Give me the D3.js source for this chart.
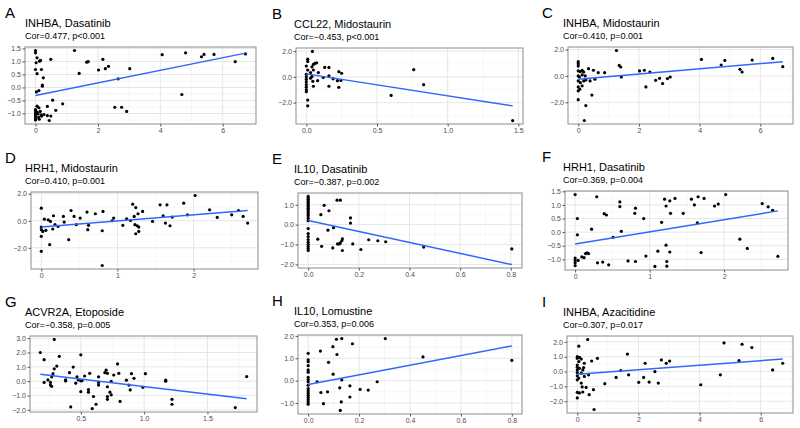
<!DOCTYPE html>
<html>
<head>
<meta charset="utf-8">
<script src="https://cdnjs.cloudflare.com/ajax/libs/d3/7.8.5/d3.min.js"></script>
<style>
  body { margin: 0; background: #fff; }
  svg { font-family: "Liberation Sans", Arial, sans-serif; }
  .tick text { fill: #4d4d4d; font-size: 7px; }
  .tick line { stroke: #555; }
</style>
</head>
<body>
<div id="chart"></div>
<script>
//-- Panel text --//
var letters = ["A", "B", "C", "D", "E", "F", "G", "H", "I"];
var genes = ["INHBA", "CCL22", "INHBA", "HRH1", "IL10", "HRH1", "ACVR2A", "IL10", "INHBA"];
var drugs = ["Dasatinib", "Midostaurin", "Midostaurin", "Midostaurin", "Dasatinib", "Dasatinib", "Etoposide", "Lomustine", "Azacitidine"];
var cors = [0.477, -0.453, 0.410, 0.410, -0.387, 0.369, -0.358, 0.353, 0.307];
var pTexts = ["p<0.001", "p<0.001", "p=0.001", "p=0.001", "p=0.002", "p=0.004", "p=0.005", "p=0.006", "p=0.017"];

//-- Linear fits (intercept, slope) --//
var fitIntercept = [-0.31, 0.23, -0.25, -0.47, 0.21, -0.44, 0.67, -0.17, -0.18];
var fitSlope = [0.242, -1.70, 0.197, 0.454, -2.76, 0.449, -1.05, 2.15, 0.152];

//-- Ticks --//
var xTicks = [[0, 2, 4, 6], [0, 0.5, 1, 1.5], [0, 2, 4, 6], [0, 1, 2], [0, 0.2, 0.4, 0.6, 0.8],
              [0, 1, 2], [0.5, 1, 1.5], [0, 0.2, 0.4, 0.6, 0.8], [0, 2, 4, 6]];
var xDigits = [0, 1, 0, 0, 1, 0, 1, 1, 0];
var yTicks = [[-1, -0.5, 0, 0.5, 1, 1.5], [-2, 0, 2], [-2, 0, 2], [-2, 0, 2], [-2, -1, 0, 1],
              [-1, -0.5, 0, 0.5, 1, 1.5], [-2, -1, 0, 1, 2, 3], [-1, 0, 1, 2], [-2, -1, 0, 1, 2]];

//-- Points [x, y] --//
var ptsA = [[0,1.42],[0,1.33],[0.02,0.95],[0.05,1.14],[0.13,1.01],[0.16,1.04],[0,0.69],[0.19,0.69],[0.05,0.53],
  [0.25,0.37],[0.22,0.09],[0.22,0.05],[0.03,-0.17],[0.11,-0.12],[0.49,1.08],[0.55,-0.49],[0.87,-0.63],[0.65,-0.88],
  [0.38,-0.73],[0.05,-0.72],[0.11,-0.78],[0,-0.85],[0,-0.9],[0,-0.98],[0,-1.05],[0,-1.12],[0,-1.2],[0,-1.25],
  [0.05,-0.95],[0.08,-1.02],[0.1,-1.15],[0.12,-1.22],[0.15,-0.92],[0.18,-1.05],[0.2,-1.1],[0.27,-1.04],[0.38,-1.08],
  [0.44,-1.27],[0.49,-1.1],[1.25,1.42],[1.4,0.54],[1.64,0.97],[1.69,0.99],[2.02,0.67],[2.16,1.08],[2.24,0.72],
  [2.34,0.81],[2.65,0.33],[2.54,-0.76],[2.76,-0.76],[2.92,-0.92],[3.02,0.72],[4.06,1.26],[4.69,-0.27],[4.81,1.33],
  [5.32,1.18],[5.4,1.27],[5.72,1.27],[6.4,0.99],[6.73,1.29]];
var ptsB = [[0.043,1.97],[0.01,1.37],[0.01,1.2],[0,0.84],[0.05,0.96],[0.073,1.09],[0.06,1.04],[0.04,0.78],[0.01,0.53],
  [0.05,0.53],[0.085,0.33],[0.13,0.73],[0.16,0.73],[0.03,0.33],[0,0.2],[0,0],[0,-0.2],[0,-0.4],[0,-0.6],[0,-0.8],
  [0,-1.0],[0,-1.15],[0.01,-1.8],[0.01,-2.25],[0.046,-0.35],[0.05,-0.73],[0.08,-0.3],[0.12,-0.05],[0.16,0.08],
  [0.16,-0.73],[0.19,-0.15],[0.22,-0.3],[0.23,0.4],[0.25,0.28],[0.23,-0.81],[0.245,-0.28],[0.03,-0.1],[0.04,0.03],
  [0.6,-1.44],[0.76,0.56],[0.83,-0.61],[1.46,-3.39]];
var ptsC = [[1.26,1.93],[0,1.08],[0,0.93],[0,0.75],[0,0.38],[0.07,0.33],[0.13,0.43],[0.18,0.3],[0.34,0.55],[0.5,0.43],
  [0.66,0.25],[0.87,0.25],[0,0],[0.04,-0.08],[0.13,0.08],[0.23,0],[0,-0.38],[0.07,-0.5],[0.13,-0.75],[0,-0.83],
  [0,-1.13],[0.05,-1.0],[0.18,-0.38],[0.25,-0.3],[0.39,-0.38],[0.55,-0.25],[0.45,-1.45],[0,-1.8],[0.25,-2.25],
  [0.2,-3.38],[1.35,0.8],[1.4,0.68],[1.42,-0.08],[2.02,0.38],[2.18,0.43],[2.36,0.3],[2.23,-0.83],[2.55,-0.33],
  [2.68,-0.18],[2.78,-0.58],[2.94,-0.2],[3.03,-0.08],[4.06,1.25],[4.71,0.83],[4.83,1.18],[5.33,0.5],[5.4,0.3],
  [5.73,1.2],[6.41,1.33],[6.74,0.7]];
var ptsD = [[0,0.93],[0,-0.47],[0,-0.66],[0,-1.15],[0,-2.26],[0.02,-0.79],[0.04,0.12],[0.06,-0.71],[0.09,0.07],
  [0.12,-0.05],[0.11,-1.77],[0.15,-0.61],[0.16,0.37],[0.18,-0.29],[0.22,-0.42],[0.29,0.32],[0.3,-0.1],[0.36,-1.4],
  [0.39,0.76],[0.43,0.32],[0.46,-0.29],[0.51,0.2],[0.6,0.64],[0.61,-0.66],[0.62,-0.34],[0.71,0.52],[0.81,0.69],
  [0.8,-0.74],[0.8,-3.31],[0.93,0],[0.95,0.2],[1.07,-0.34],[1.12,0.15],[1.17,0.02],[1.2,1.23],[1.22,0.32],
  [1.23,-0.29],[1.24,-0.96],[1.24,0.98],[1.26,-0.37],[1.28,-0.79],[1.28,-0.47],[1.33,0.69],[1.27,0.52],[1.46,-0.05],
  [1.56,1.18],[1.6,0.37],[1.63,-0.17],[1.65,1.18],[1.69,-0.37],[1.72,0.27],[1.87,1.3],[1.92,0.44],[2.02,1.87],
  [2.21,0.81],[2.31,0.25],[2.5,0.44],[2.59,0.76],[2.65,0.32],[2.71,-0.17]];
var ptsE = [[0,1.42],[0,1.35],[0,1.28],[0,1.2],[0,1.12],[0,1.05],[0,0.98],[0,0.9],[0,0.82],[0,0.75],[0,0.65],[0,0.55],
  [0,0.45],[0,0.32],[0,0.2],[0,-0.2],[0,-0.45],[0,-0.6],[0,-0.75],[0,-0.88],[0,-1.0],[0,-1.1],[0,-1.2],[0,-1.3],
  [0.038,-0.73],[0.05,0.5],[0.053,-1.09],[0.063,0.97],[0.078,-0.28],[0.082,0.7],[0.1,-0.15],[0.097,-1.17],
  [0.114,1.23],[0.127,1.23],[0.116,-0.97],[0.127,-0.92],[0.133,-0.81],[0.135,-0.71],[0.135,-1.3],[0.123,-0.97],
  [0.167,0.34],[0.167,0.08],[0.176,-0.97],[0.208,-1.25],[0.239,-0.76],[0.275,-0.81],[0.306,-0.86],[0.456,-1.13],
  [0.804,-1.22]];
var ptsF = [[0,1.38],[0.29,1.3],[0.03,0.5],[0.03,-0.1],[0,-0.95],[0,-1.04],[0,-1.13],[0,-1.23],[0.04,-1.04],
  [0.09,-0.91],[0.12,-0.94],[0.14,-0.79],[0.16,-0.76],[0.18,-0.79],[0.22,0.11],[0.3,-1.13],[0.37,-1.1],[0.39,0.68],
  [0.42,0.63],[0.45,-1.2],[0.51,-0.19],[0.6,1.11],[0.6,0.94],[0.62,0.03],[0.71,-1.06],[0.81,0.88],[0.8,0.69],
  [0.81,-1.08],[0.92,0.5],[0.95,-0.88],[1.07,-1.26],[1.11,-0.7],[1.16,0.36],[1.2,1.21],[1.22,0.96],[1.22,-0.48],
  [1.23,-1.08],[1.23,-1.25],[1.27,1.15],[1.28,0.69],[1.27,-0.73],[1.34,1.24],[1.45,0.69],[1.56,1.21],[1.6,1.0],
  [1.64,0.34],[1.65,1.3],[1.69,-0.75],[1.73,1.24],[1.87,0.96],[1.92,1.03],[2.02,1.38],[2.21,-0.26],[2.31,-0.6],
  [2.51,1.05],[2.59,0.93],[2.65,0.8],[2.72,-0.89]];
var ptsG = [[0.18,2.0],[0.21,1.5],[0.29,2.91],[0.33,1.73],[0.29,0.86],[0.31,1.05],[0.21,-0.09],[0.24,0.09],
  [0.26,-0.09],[0.26,-0.27],[0.27,-0.36],[0.27,0.3],[0.28,0.52],[0.38,0.09],[0.38,0.02],[0.41,0.59],[0.44,0.98],
  [0.42,-1.8],[0.46,-0.14],[0.47,0.3],[0.48,0.09],[0.5,0.02],[0.51,0.04],[0.5,-0.73],[0.5,1.84],[0.53,0.36],
  [0.56,-0.59],[0.56,-0.77],[0.57,0.55],[0.6,-1.07],[0.59,-1.91],[0.62,-1.61],[0.64,-0.09],[0.64,-0.27],[0.64,0.3],
  [0.69,0.59],[0.7,0.77],[0.71,-0.39],[0.71,-1.07],[0.71,-1.27],[0.71,0.55],[0.73,-0.77],[0.74,-0.95],[0.74,-0.02],
  [0.76,0.43],[0.79,1.2],[0.8,0.55],[0.81,-1.41],[0.86,0.07],[0.88,-0.27],[0.89,-0.61],[0.9,0.52],[0.92,0.2],
  [0.99,-0.43],[1.01,0.52],[1.17,0.07],[1.17,0.0],[1.22,-1.27],[1.22,-1.61],[1.72,-1.84],[1.81,0.32]];
var ptsH = [[0,1.22],[0,0.93],[0,0.85],[0,0.67],[0,0.48],[0,0.38],[0,0.15],[0,0.05],[0,-0.05],[0,-0.2],[0,-0.35],
  [0,-0.45],[0,-0.55],[0,-0.65],[0,-0.75],[0,-0.85],[0,-0.95],[0,-1.05],[0.035,-0.05],[0.048,1.32],[0.05,-0.53],
  [0.06,-1.03],[0.076,-0.5],[0.08,0.82],[0.097,1.52],[0.098,0.29],[0.111,1.85],[0.113,1.17],[0.124,-0.32],
  [0.126,-1.33],[0.13,-0.95],[0.132,1.88],[0.132,0.03],[0.164,-0.23],[0.164,-0.73],[0.174,1.65],[0.204,-0.39],
  [0.236,-0.42],[0.271,-0.05],[0.303,1.88],[0.451,1.06],[0.8,0.91]];
var ptsI = [[0.34,2.16],[0.05,1.71],[0,1.0],[0,0.89],[0.07,0.96],[0.13,0.84],[0.05,0.67],[0,0.44],[0,0.29],[0.07,0.22],
  [0,0.11],[0,-0.07],[0,-0.29],[0,-0.56],[0.05,-0.44],[0.13,-0.11],[0.18,0.11],[0.21,0.27],[0.23,0.56],[0.23,-0.33],
  [0.13,-0.78],[0.16,-1.04],[0,-1.4],[0.07,-1.44],[0.18,-1.38],[0,-1.78],[0.29,-1.07],[0.39,-1.56],[0.37,-0.22],
  [0.47,0.71],[0.53,-1.22],[0.55,-2.56],[0.66,0.89],[0.9,-0.82],[1.27,-0.4],[1.42,0.07],[1.64,1.18],[1.68,-0.22],
  [2.01,-0.73],[2.17,-0.4],[2.22,0.56],[2.35,-0.71],[2.54,0.0],[2.65,-0.78],[2.75,0.78],[2.91,0.56],[3.02,0.71],
  [4.04,-0.89],[4.68,-0.22],[4.8,1.93],[5.29,0.73],[5.39,1.84],[5.71,1.62],[6.39,0.11],[6.72,0.56]];
var points = [ptsA, ptsB, ptsC, ptsD, ptsE, ptsF, ptsG, ptsH, ptsI];

//-- Layout: panel boxes (left, top, right, bottom) --//
var boxes = [
  {l: 25, t: 47, r: 256, b: 124}, {l: 296, t: 48, r: 523, b: 124}, {l: 568, t: 47, r: 793, b: 124},
  {l: 31, t: 192, r: 258, b: 269}, {l: 298, t: 193, r: 522, b: 268}, {l: 565, t: 191, r: 788, b: 270},
  {l: 30, t: 336, r: 257, b: 412}, {l: 298, t: 335, r: 522, b: 414}, {l: 567, t: 336, r: 793, b: 413}];
var letterX = [5, 272, 542], titleX = [25, 294, 563];

var svg = d3.select("#chart").append("svg")
  .attr("width", 800)
  .attr("height", 428);

var fmtCor = d3.format(".3f");

function minorOf(ticks, dom) {
  var step = ticks[1] - ticks[0], out = [];
  for (var v = ticks[0] - step / 2; v <= dom[1]; v += step) {
    if (v >= dom[0]) out.push(v);
  }
  return out;
}

points.forEach(function(pts, i) {
  var b = boxes[i], col = i % 3;
  var fit = function(x) { return fitIntercept[i] + fitSlope[i] * x; };
  var xe = d3.extent(pts, function(d) { return d[0]; });
  // the fitted line counts toward the y range, as in ggplot
  var ye = d3.extent(pts.map(function(d) { return d[1]; }).concat([fit(xe[0]), fit(xe[1])]));
  var xPad = (xe[1] - xe[0]) * 0.05, yPad = (ye[1] - ye[0]) * 0.05;
  var xScale = d3.scaleLinear().domain([xe[0] - xPad, xe[1] + xPad]).range([b.l, b.r]),
      yScale = d3.scaleLinear().domain([ye[0] - yPad, ye[1] + yPad]).range([b.b, b.t]);
  var g = svg.append("g");

  // Panel letter and titles
  g.append("text").attr("x", letterX[col]).attr("y", b.t - 29)
    .style("font-size", "15px").style("fill", "#000").text(letters[i]);
  g.append("text").attr("x", titleX[col]).attr("y", b.t - 20)
    .style("font-size", "11px").style("fill", "#000").text(genes[i] + ", " + drugs[i]);
  g.append("text").attr("x", titleX[col]).attr("y", b.t - 8)
    .style("font-size", "9px").style("fill", "#000")
    .text("Cor=" + fmtCor(cors[i]).replace("-", "\u2212") + ", " + pTexts[i]);

  // Grid
  var xMinor = minorOf(xTicks[i], xScale.domain()),
      yMinor = minorOf(yTicks[i], yScale.domain());
  g.selectAll(".xminor").data(xMinor).enter().append("line")
    .attr("x1", function(d) { return xScale(d); }).attr("x2", function(d) { return xScale(d); })
    .attr("y1", b.t).attr("y2", b.b)
    .style("stroke", "#f2f2f2").style("stroke-width", 0.6);
  g.selectAll(".yminor").data(yMinor).enter().append("line")
    .attr("x1", b.l).attr("x2", b.r)
    .attr("y1", function(d) { return yScale(d); }).attr("y2", function(d) { return yScale(d); })
    .style("stroke", "#f2f2f2").style("stroke-width", 0.6);
  g.selectAll(".xmajor").data(xTicks[i]).enter().append("line")
    .attr("x1", function(d) { return xScale(d); }).attr("x2", function(d) { return xScale(d); })
    .attr("y1", b.t).attr("y2", b.b)
    .style("stroke", "#e6e6e6").style("stroke-width", 1);
  g.selectAll(".ymajor").data(yTicks[i]).enter().append("line")
    .attr("x1", b.l).attr("x2", b.r)
    .attr("y1", function(d) { return yScale(d); }).attr("y2", function(d) { return yScale(d); })
    .style("stroke", "#e6e6e6").style("stroke-width", 1);

  // Points
  g.selectAll(".pt").data(pts).enter().append("circle")
    .attr("cx", function(d) { return xScale(d[0]); })
    .attr("cy", function(d) { return yScale(d[1]); })
    .attr("r", 1.6)
    .style("fill", "#000");

  // Regression line over the data range
  g.append("line")
    .attr("x1", xScale(xe[0])).attr("y1", yScale(fit(xe[0])))
    .attr("x2", xScale(xe[1])).attr("y2", yScale(fit(xe[1])))
    .style("stroke", "#3366ff").style("stroke-width", 1.5);

  // Border
  g.append("rect").attr("x", b.l).attr("y", b.t)
    .attr("width", b.r - b.l).attr("height", b.b - b.t)
    .style("fill", "none").style("stroke", "#8c8c8c").style("stroke-width", 1);

  // Axes
  var xAxis = d3.axisBottom(xScale).tickValues(xTicks[i])
        .tickFormat(d3.format("." + xDigits[i] + "f")).tickSize(2.5).tickPadding(1.5),
      yAxis = d3.axisLeft(yScale).tickValues(yTicks[i])
        .tickFormat(d3.format(".1f")).tickSize(2.5).tickPadding(1.5);
  g.append("g").attr("transform", "translate(0," + b.b + ")").call(xAxis)
    .call(function(s) { s.select(".domain").remove(); });
  g.append("g").attr("transform", "translate(" + b.l + ",0)").call(yAxis)
    .call(function(s) { s.select(".domain").remove(); });
});
</script>
</body>
</html>
